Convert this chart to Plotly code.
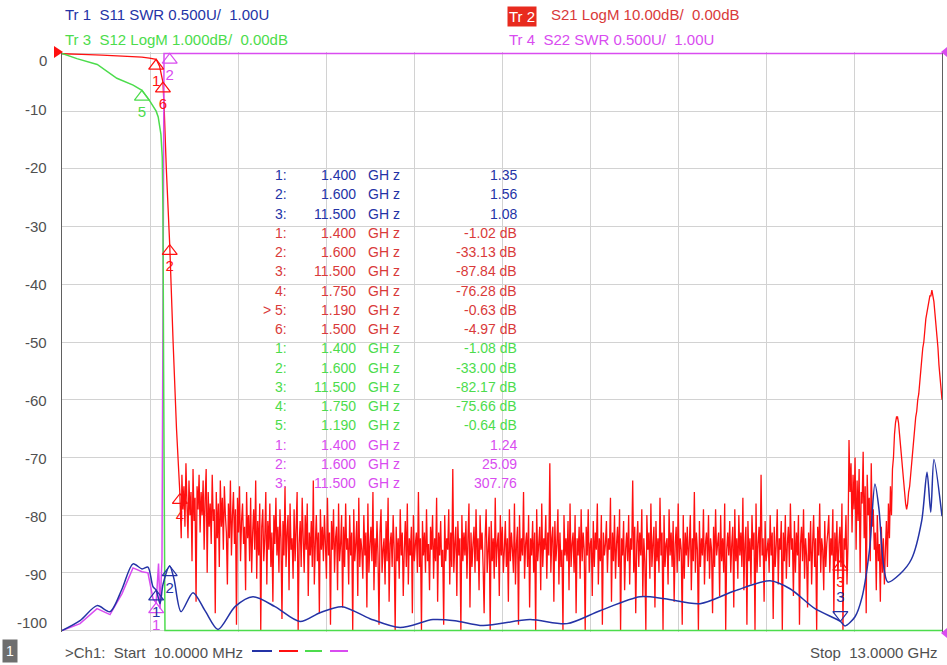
import numpy as np
import plotly.graph_objects as go

# sweep (GHz)
F_START = 0.01
F_STOP = 13.0

# Tr 1  S11 SWR  (0.500U/div, ref 1.00U at bottom)
s11_f = [0.01, 0.276, 0.527, 0.719, 0.896, 1.058, 1.191, 1.279, 1.353, 1.40, 1.457, 1.501,
         1.60, 1.663, 1.767, 1.944, 2.121, 2.313, 2.564, 2.829, 3.154, 3.523, 3.818, 4.143,
         4.556, 5.0, 5.486, 5.811, 6.224, 6.918, 7.464, 7.951, 8.542, 8.911, 9.428, 9.944,
         10.461, 10.756, 11.125, 11.50, 11.568, 11.716, 11.82, 11.93, 12.01, 12.07, 12.13,
         12.20, 12.38, 12.55, 12.70, 12.779, 12.834, 12.881, 13.0]
s11_swr = [1.00, 1.086, 1.216, 1.164, 1.36, 1.578, 1.534, 1.55, 1.38, 1.35, 1.233, 1.40,
           1.56, 1.448, 1.164, 1.328, 1.172, 1.009, 1.207, 1.293, 1.207, 1.078, 1.155, 1.207,
           1.103, 1.026, 1.095, 1.086, 1.043, 1.095, 1.060, 1.172, 1.293, 1.276, 1.233, 1.345,
           1.431, 1.362, 1.190, 1.08, 1.04, 1.12, 1.29, 1.70, 2.27, 2.05, 1.60,
           1.42, 1.49, 1.62, 1.95, 2.371, 2.026, 2.483, 1.991]

# Tr 4  S22 SWR  (0.500U/div, ref 1.00U at bottom)
s22_f = [0.01, 0.276, 0.527, 0.719, 0.896, 1.058, 1.191, 1.279, 1.353, 1.40, 1.435, 1.457,
         1.486, 1.516, 1.60, 3.0, 6.0, 9.0, 11.5, 13.0]
s22_swr = [1.00, 1.06, 1.19, 1.138, 1.32, 1.543, 1.509, 1.50, 1.276, 1.24, 1.58, 1.19,
           1.62, 8.0, 25.09, 110.0, 190.0, 250.0, 307.76, 320.0]

# Tr 3  S12 LogM  (1.000dB/div, ref 0.00dB at top)
s12_f = [0.01, 0.23, 0.53, 0.82, 1.06, 1.19, 1.31, 1.40, 1.43, 1.47, 1.49, 1.50, 1.51,
         1.52, 1.53, 1.60, 1.75, 11.5, 13.0]
s12_db = [0.0, -0.09, -0.19, -0.43, -0.55, -0.64, -0.83, -1.0, -1.1, -1.4, -1.8, -2.7, -5.5,
          -8.5, -11.0, -33.00, -75.66, -82.17, -80.0]

# Tr 2  S21 LogM  (10.00dB/div, ref 0.00dB at top) - passband and skirt
s21_f = [0.01, 0.3, 0.6, 0.9, 1.19, 1.3, 1.4, 1.45, 1.5, 1.52, 1.55, 1.6, 1.65, 1.7, 1.75, 1.77]
s21_db = [-0.05, -0.15, -0.3, -0.45, -0.63, -0.8, -1.02, -2.2, -4.97, -10.0, -20.0, -33.13,
          -50.0, -65.0, -76.28, -84.0]

# S21 stopband, read along the sweep from 1.78 GHz to stop
s21_stop_db = [
    -73, -79, -75, -82, -71, -78, -84, -74, -80, -76, -88, -72, -81, -77, -95, -75, -79, -73, -83, -76,
    -80, -74, -86, -77, -72, -90, -76, -82, -78, -85, -73, -81, -79, -97, -76, -84, -78, -89, -74, -82,
    -77, -86, -75, -80, -83, -92, -78, -84, -74, -87, -80, -76, -85, -79, -99, -77, -83, -75, -88, -81,
    -78, -85, -82, -93, -76, -84, -80, -88, -77, -90, -83, -79, -86, -74, -91, -81, -87, -78, -100, -82,
    -79, -88, -84, -76, -92, -81, -86, -78, -89, -83, -95, -80, -85, -77, -87, -82, -90, -79, -84, -98,
    -81, -87, -75, -89, -83, -80, -93, -78, -86, -84, -91, -79, -88, -82, -76, -100, -85, -81, -89, -77,
    -84, -90, -80, -86, -78, -94, -83, -87, -81, -89, -74, -92, -85, -80, -88, -83, -97, -79, -86, -82,
    -88, -80, -85, -91, -77, -87, -83, -99, -81, -86, -79, -90, -84, -82, -93, -78, -88, -85, -80, -96,
    -82, -89, -78, -86, -84, -92, -80, -87, -83, -100, -79, -88, -85, -81, -94, -77, -89, -84, -86, -91,
    -80, -87, -83, -96, -78, -90, -85, -82, -88, -76, -93, -84, -89, -81, -87, -99, -83, -79, -90, -86,
    -84, -92, -81, -88, -77, -95, -85, -83, -89, -80, -86, -100, -82, -88, -84, -91, -79, -87, -83, -94,
    -86, -81, -89, -78, -92, -84, -87, -82, -97, -80, -88, -85, -83, -90, -76, -89, -84, -100, -81, -87,
    -83, -90, -79, -88, -85, -93, -82, -86, -80, -91, -84, -88, -77, -95, -83, -87, -81, -89, -86, -99,
    -80, -88, -84, -86, -79, -92, -83, -89, -72, -90, -85, -82, -94, -81, -87, -84, -100, -80, -88, -83,
    -87, -81, -91, -84, -78, -96, -83, -89, -85, -82, -90, -79, -88, -84, -93, -80, -86, -83, -89, -97,
    -84, -79, -90, -86, -82, -100, -81, -88, -84, -91, -77, -89, -85, -83, -94, -80, -87, -82, -90, -86,
    -81, -89, -84, -95, -79, -88, -83, -86, -90, -78, -92, -85, -82, -99, -80, -88, -84, -87, -76, -91,
    -85, -83, -89, -80, -96, -84, -87, -81, -90, -83, -100, -79, -88, -85, -82, -93, -78, -89, -84, -86,
    -80, -91, -83, -87, -71, -90, -84, -82, -95, -81, -88, -85, -79, -92, -83, -89, -86, -100, -80, -87,
    -84, -88, -81, -93, -78, -89, -85, -83, -90, -80, -97, -84, -87, -82, -91, -79, -88, -83, -86, -100,
    -82, -87, -79, -90, -85, -84, -94, -81, -89, -83, -86, -78, -92, -84, -88, -80, -99, -83, -87, -85,
    -81, -90, -84, -86, -77, -95, -83, -88, -80, -91, -85, -82, -89, -79, -100, -84, -87, -81, -93, -86,
    -83, -88, -80, -92, -84, -86, -74, -90, -82, -97, -85, -81, -89, -83, -87, -79, -94, -84, -88, -100,
    -80, -86, -83, -91, -78, -89, -85, -82, -96, -81, -88, -84, -90, -77, -87, -83, -100, -80, -89, -85,
    -84, -92, -79, -87, -83, -89, -81, -95, -85, -82, -90, -78, -88, -84, -86, -99, -80, -91, -83, -87,
    -82, -89, -85, -80, -93, -84, -88, -76, -90, -83, -86, -100, -81, -89, -84, -87, -79, -92, -85, -83,
    -88, -80, -91, -84, -86, -97, -82, -89, -79, -87, -85, -83, -94, -80, -88, -84, -90, -78, -100, -86,
    -83, -87, -81, -90, -85, -82, -96, -79, -88, -84, -91, -80, -87, -83, -89, -77, -93, -85, -82, -99,
    -81, -88, -84, -92, -80, -86, -83, -100, -78, -90, -85, -82, -89, -73, -87, -84, -95, -81, -88, -86,
    -84, -90, -80, -87, -83, -98, -82, -89, -85, -79, -92, -84, -86, -81, -100, -83, -88, -80, -91, -85,
    -82, -89, -78, -86, -84, -94, -81, -90, -83, -87, -80, -99, -85, -82, -88, -79, -91, -84, -87, -96,
    -83, -88, -81, -92, -85, -80, -89, -84, -100, -82, -87, -78, -90, -84, -86, -93, -81, -89, -85, -83,
    -80, -90, -84, -87, -79, -97, -83, -88, -81, -91, -85, -82, -89, -78, -100, -84, -86, -80, -92, -85,
    # raised section before the top-end resonances
    -67, -76, -71, -83, -73, -79, -70, -86, -74, -81, -72, -90, -76, -78, -69, -84, -75, -97, -73, -80,
    -77, -88, -71, -82, -79, -86, -83, -93, -80, -88, -85, -95, -82, -90, -84, -92, -86, -81, -89, -78,
    -84, -75, -80, -72, -70, -66, -64, -63,
    # top-end resonance
    -63, -64, -66, -68, -70, -72, -74, -76, -78, -79, -78, -76, -75, -73, -71, -69, -67, -65, -63, -62,
    -60, -59, -57, -55, -53, -51, -50, -48, -46, -45, -44, -43, -42, -42, -41, -42, -43, -45, -47, -49,
    -51, -54, -56, -58, -60,
]

# marker tables (number, frequency GHz, reading)
s11_mk = [1, 2, 3]
s11_mk_f = [1.4, 1.6, 11.5]
s11_mk_val = [1.35, 1.56, 1.08]
s21_mk = [1, 2, 3, 4, 5, 6]
s21_mk_f = [1.4, 1.6, 11.5, 1.75, 1.19, 1.5]
s21_mk_val = [-1.02, -33.13, -87.84, -76.28, -0.63, -4.97]
s12_mk = [1, 2, 3, 4, 5]
s12_mk_f = [1.4, 1.6, 11.5, 1.75, 1.19]
s12_mk_val = [-1.08, -33.00, -82.17, -75.66, -0.64]
s22_mk = [1, 2, 3]
s22_mk_f = [1.4, 1.6, 11.5]
s22_mk_val = [1.24, 25.09, 307.76]
ACTIVE = ("S21", 5)

y_ticks = [0, -10, -20, -30, -40, -50, -60, -70, -80, -90, -100]

BLUE = "#2433a6"
RED = "#ff1010"
GREEN = "#4cdc4c"
MAGENTA = "#d94cf0"
TXT_RED = "#d93a3a"
GRAY = "#505050"
FONT = "Liberation Sans, Arial, sans-serif"


def logm_div(db, per_div):
    return np.clip(np.asarray(db, dtype=float) / per_div * 10, -100, 0)


def swr_div(u, per_div=0.5, ref=1.0):
    return np.clip(-100 + (np.asarray(u, dtype=float) - ref) / per_div * 10, -100, 0)


s21_all_f = np.concatenate([s21_f, np.linspace(1.78, F_STOP, len(s21_stop_db))])
s21_all_db = np.concatenate([s21_db, s21_stop_db])

fig = go.Figure()
fig.add_trace(go.Scatter(x=s21_all_f, y=logm_div(s21_all_db, 10.0), mode="lines",
                         line=dict(color=RED, width=1.3, simplify=False)))
fig.add_trace(go.Scatter(x=s22_f, y=swr_div(s22_swr), mode="lines",
                         line=dict(color=MAGENTA, width=1.5)))
fig.add_trace(go.Scatter(x=s12_f, y=logm_div(s12_db, 1.0), mode="lines",
                         line=dict(color=GREEN, width=1.5)))
fig.add_trace(go.Scatter(x=s11_f, y=swr_div(s11_swr), mode="lines",
                         line=dict(color=BLUE, width=1.5, shape="spline", smoothing=0.8)))

# marker glyphs: u = triangle below point, d = triangle above point
MK_SIZE = 13
off = MK_SIZE / 2 / 5.8  # half glyph in graticule units (58 px per division)


def add_markers(nums, freqs, ydiv, styles, color):
    xs, ys, syms, txt, pos = [], [], [], [], []
    for n, f, y, s in zip(nums, freqs, ydiv, styles):
        if not s:
            continue
        up = s.startswith("u")
        xs.append(f)
        ys.append(y - off if up else y + off)
        syms.append("triangle-up-open" if up else "triangle-down-open")
        txt.append("" if s.endswith("-") else str(n))
        pos.append("bottom center" if up else "top center")
    fig.add_trace(go.Scatter(x=xs, y=ys, mode="markers+text", text=txt, textposition=pos,
                             marker=dict(symbol=syms, size=MK_SIZE, color=color,
                                         line=dict(color=color, width=1.2)),
                             textfont=dict(family=FONT, size=15, color=color),
                             cliponaxis=False))


add_markers(s21_mk, s21_mk_f, logm_div(s21_mk_val, 10.0), ["u", "u", "u", "u", "d", "u"], RED)
add_markers(s12_mk, s12_mk_f, logm_div(s12_mk_val, 1.0), ["", "u-", "u-", "u-", "u"], GREEN)
add_markers(s22_mk, s22_mk_f, swr_div(s22_mk_val), ["u", "u", "d"], MAGENTA)
add_markers(s11_mk, s11_mk_f, swr_div(s11_mk_val), ["u", "u", "d"], BLUE)


# pixel -> paper helpers for the screen furniture
def px(x):
    return (x - 62) / 880


def py(y):
    return (632 - y) / 580


ann = []
NB = "\u00a0"


def text(x, y, s, color, size=15, anchor="left", **kw):
    ann.append(dict(x=px(x), y=py(y), xref="paper", yref="paper", text=s, showarrow=False,
                    xanchor=anchor, yanchor="middle", font=dict(family=FONT, size=size, color=color),
                    **kw))


# trace headers
text(63, 15, f"Tr 1{NB}{NB}S11 SWR 0.500U/{NB}{NB}1.00U", BLUE)
text(63, 40, f"Tr 3{NB}{NB}S12 LogM 1.000dB/{NB}{NB}0.00dB", GREEN)
text(507, 16, f"Tr{NB}2", "#ffffff", bgcolor="#e82a1e", borderpad=1)
text(549, 15, f"S21 LogM 10.00dB/{NB}{NB}0.00dB", TXT_RED)
text(507, 40, f"Tr 4{NB}{NB}S22 SWR 0.500U/{NB}{NB}1.00U", MAGENTA)

# y labels
for v in y_ticks:
    yy = 52 + (-v) * 5.8
    if v == 0:
        yy += 9
    elif v == -100:
        yy -= 10
    text(49, yy, str(v), GRAY, anchor="right")

# marker readout table
rows = []
for n, f, v in zip(s11_mk, s11_mk_f, s11_mk_val):
    rows.append((BLUE, "S11", n, f, f"{v:.2f}"))
for n, f, v in zip(s21_mk, s21_mk_f, s21_mk_val):
    rows.append((TXT_RED, "S21", n, f, f"{v:.2f} dB"))
for n, f, v in zip(s12_mk, s12_mk_f, s12_mk_val):
    rows.append((GREEN, "S12", n, f, f"{v:.2f} dB"))
for n, f, v in zip(s22_mk, s22_mk_f, s22_mk_val):
    rows.append((MAGENTA, "S22", n, f, f"{v:.2f}"))

for k, (c, tr, n, f, v) in enumerate(rows):
    yy = 175 + 19.25 * k
    lab = f">{NB}{n}:" if (tr, n) == ACTIVE else f"{n}:"
    text(289, yy, lab, c, size=14, anchor="right")
    text(358, yy, f"{f:.3f}", c, size=14, anchor="right")
    text(366, yy, f"GH{NB}z", c, size=14)
    text(519, yy, v, c, size=14, anchor="right")

# status bar
text(10, 651, "1", "#ffffff", size=14, anchor="center", bgcolor="#6e6e6e", borderpad=3)
text(63, 652, f">Ch1:{NB}{NB}Start{NB}{NB}{F_START * 1000:.4f} MHz", GRAY)
text(940, 652, f"Stop{NB}{NB}{F_STOP:.4f} GHz", GRAY, anchor="right")

shapes = []
for c, x0, x1 in [(BLUE, 252, 272), (RED, 279, 298), (GREEN, 305, 322), (MAGENTA, 330, 348)]:
    shapes.append(dict(type="line", xref="paper", yref="paper", x0=px(x0), x1=px(x1),
                       y0=py(651), y1=py(651), line=dict(color=c, width=2)))
# reference-position arrows at the graticule edges
shapes.append(dict(type="path", xref="paper", yref="paper", fillcolor=RED, line=dict(width=0),
                   path=f"M {px(54)} {py(46)} L {px(63)} {py(52)} L {px(54)} {py(58)} Z"))
for yy in (52, 633):
    shapes.append(dict(type="path", xref="paper", yref="paper", fillcolor=MAGENTA, line=dict(width=0),
                       path=f"M {px(947)} {py(yy - 5)} L {px(941)} {py(yy)} L {px(947)} {py(yy + 5)} Z"))

fig.update_layout(
    width=947, height=665,
    margin=dict(l=62, r=5, t=52, b=33),
    paper_bgcolor="white", plot_bgcolor="white",
    showlegend=False,
    annotations=ann, shapes=shapes,
    xaxis=dict(range=[F_START, F_STOP], tick0=F_START, dtick=(F_STOP - F_START) / 10,
               showticklabels=False, showgrid=True, gridcolor="#d2d2d2", gridwidth=1,
               zeroline=False, showline=False, ticks=""),
    yaxis=dict(range=[-100.25, 0.25], tickvals=y_ticks, showticklabels=False, showgrid=True,
               gridcolor="#d2d2d2", gridwidth=1, zeroline=False, showline=True, mirror=True,
               linecolor="#606060", linewidth=1, ticks=""),
)

fig.write_html("out.html", config={"displayModeBar": False},
               post_script="document.body.style.margin='0';document.body.style.overflow='hidden';")
